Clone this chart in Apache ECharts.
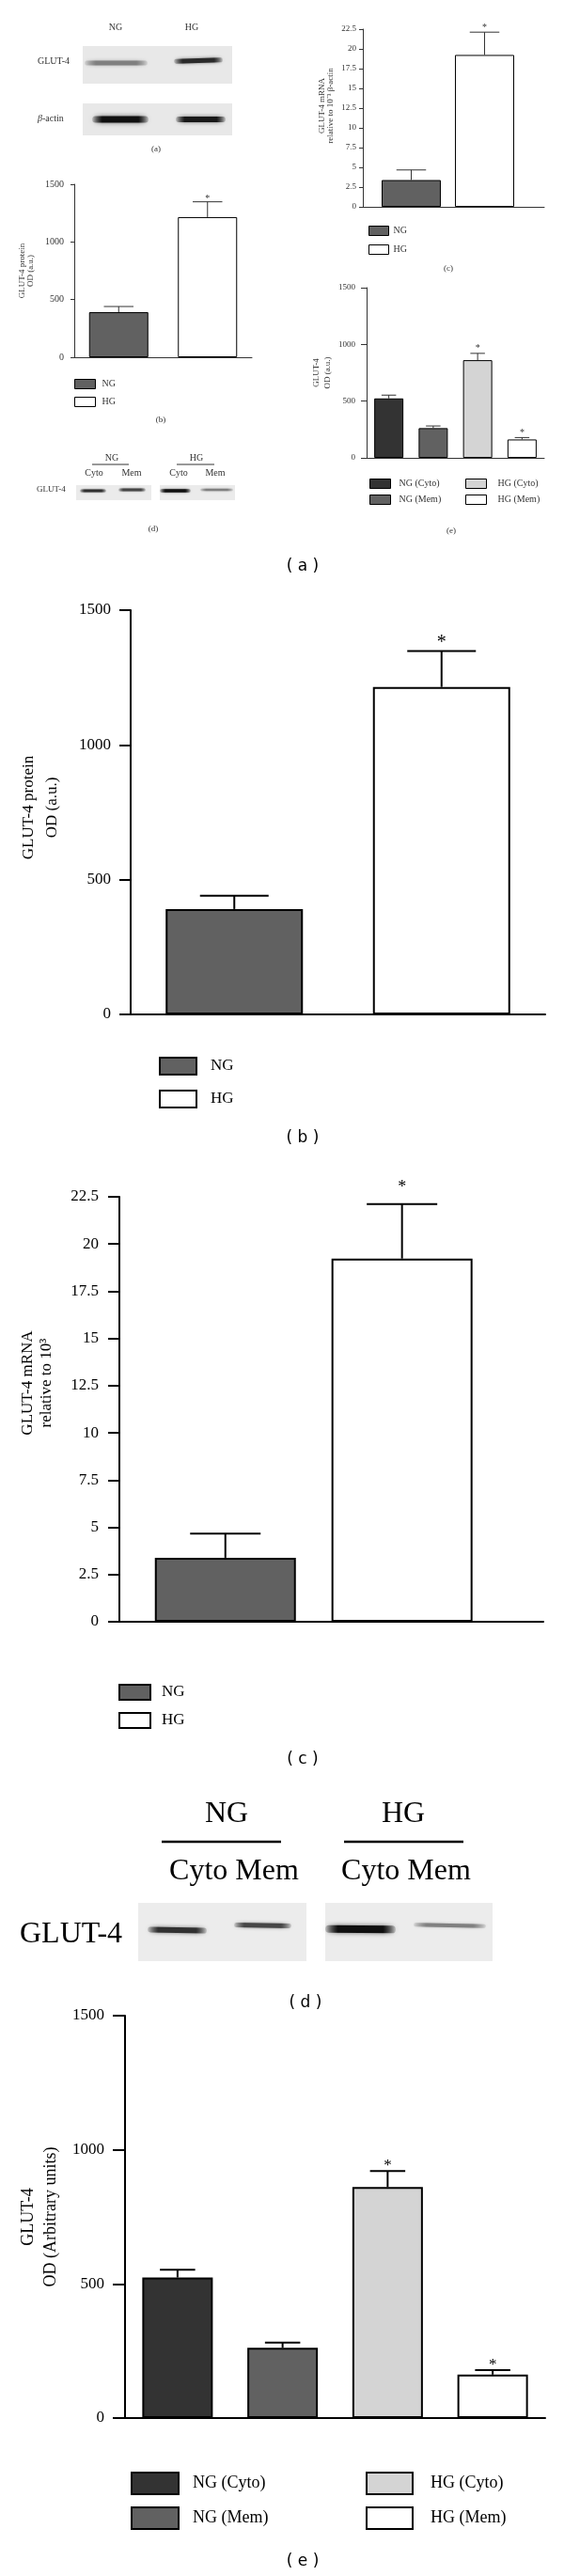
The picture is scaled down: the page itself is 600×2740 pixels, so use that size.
<!DOCTYPE html>
<html><head><meta charset="utf-8">
<script src="https://cdn.jsdelivr.net/npm/echarts@6/dist/echarts.min.js"></script>
<style>html,body{margin:0;padding:0;background:#fff}#c{width:600px;height:2740px}</style>
</head><body><div id="c"></div>
<script>
// ---------------- data ----------------
const groupsBC = ['NG', 'HG'];
const proteinMean = [391, 1215];
const proteinSem = [49, 133];
const proteinStars = ['', '*'];
const mrnaMean = [3.39, 19.23];
const mrnaSem = [1.28, 2.89];
const mrnaStars = ['', '*'];
const fractionGroups = ['NG (Cyto)', 'NG (Mem)', 'HG (Cyto)', 'HG (Mem)'];
const fractionMean = [524, 262, 861, 162];
const fractionSem = [29, 19, 60, 17];
const fractionStars = ['', '', '*', '*'];
const odTicks = ['0', '500', '1000', '1500'];
const mrnaTicks = ['0', '2.5', '5', '7.5', '10', '12.5', '15', '17.5', '20', '22.5'];
const blotAGroups = ['NG', 'HG'];
const blotAGlut = [0.45, 0.85];
const blotAActin = [0.97, 0.93];
const blotDGroups = ['NG', 'HG'];
const blotDFractions = ['Cyto', 'Mem'];
const blotDGlut = [0.82, 0.72, 0.97, 0.45];

// ---------------- styles / layout ----------------
const SERIF = '"Liberation Serif","Times New Roman",serif';
const SANS = '"DejaVu Sans",sans-serif';
const FILL = {'NG':'#616161','HG':'#ffffff','NG (Cyto)':'#333333','NG (Mem)':'#616161','HG (Cyto)':'#d4d4d4','HG (Mem)':'#ffffff'};

const panels = [
 {cats:groupsBC, mean:proteinMean, sem:proteinSem, stars:proteinStars, ticks:odTicks,
  grid:{left:79,top:196,width:189,height:184}, xMin:0.5, xMax:2.5, barW:63, lw:1, col:'#333',
  fs:10, tickLen:4, margin:11, name:'GLUT-4 protein\nOD (a.u.)', nameFs:9, nameLH:9, nameGap:42, namePad:0,
  starFs:10, starGap:-2,
  legends:[{left:79,top:403,items:groupsBC,w:22,h:10,gap:8,fs:10,pad:2}]},
 {cats:groupsBC, mean:mrnaMean, sem:mrnaSem, stars:mrnaStars, ticks:mrnaTicks,
  grid:{left:386,top:31,width:193,height:189}, xMin:0.34, xMax:2.814, barW:63, lw:1, col:'#333',
  fs:9, tickLen:4, margin:7, name:'GLUT-4 mRNA\nrelative to 10\u207B\u00B3 \u03B2-actin', nameFs:9, nameLH:9, nameGap:30, namePad:26,
  starFs:10, starGap:0,
  legends:[{left:392,top:240,items:groupsBC,w:21,h:10,gap:9,fs:10,pad:0}]},
 {cats:fractionGroups, mean:fractionMean, sem:fractionSem, stars:fractionStars, ticks:odTicks,
  grid:{left:390,top:306,width:189,height:181}, xMin:0.5, xMax:4.5, barW:31, lw:1, col:'#333',
  fs:9, tickLen:6, margin:12, name:'GLUT-4\nOD (a.u.)', nameFs:9, nameLH:12, nameGap:35, namePad:0,
  starFs:10, starGap:0,
  legends:[{left:393,top:509,items:fractionGroups.slice(0,2),w:22,h:10,gap:6,fs:10,pad:4},
           {left:495,top:509,items:fractionGroups.slice(2),w:22,h:10,gap:6,fs:10,pad:7}]},
 {cats:groupsBC, mean:proteinMean, sem:proteinSem, stars:proteinStars, ticks:odTicks,
  grid:{left:139,top:649,width:441,height:430}, xMin:0.5, xMax:2.5, barW:146, lw:2, col:'#000',
  fs:17, tickLen:12, margin:21, name:'GLUT-4 protein\nOD (a.u.)', nameFs:17, nameLH:25, nameGap:71, namePad:10,
  starFs:20, starGap:-1,
  legends:[{left:169,top:1124,items:groupsBC,w:39,h:18,gap:15,fs:17,pad:10}]},
 {cats:groupsBC, mean:mrnaMean, sem:mrnaSem, stars:mrnaStars, ticks:mrnaTicks,
  grid:{left:127,top:1273,width:451,height:452}, xMin:0.4, xMax:2.8, barW:150, lw:2, col:'#000',
  fs:17, tickLen:12, margin:22, name:'GLUT-4 mRNA\nrelative to 10\u00B3', nameFs:17, nameLH:20, nameGap:67, namePad:56,
  starFs:18, starGap:8,
  legends:[{left:126,top:1791,items:groupsBC,w:33,h:16,gap:12,fs:17,pad:7}]},
 {cats:fractionGroups, mean:fractionMean, sem:fractionSem, stars:fractionStars, ticks:odTicks,
  grid:{left:133,top:2144,width:447,height:428}, xMin:0.5, xMax:4.5, barW:75, lw:2, col:'#000',
  fs:17, tickLen:13, margin:22, name:'GLUT-4\nOD (Arbitrary units)', nameFs:18, nameLH:24, nameGap:67, namePad:0,
  starFs:17, starGap:-3,
  legends:[{left:139,top:2629,items:fractionGroups.slice(0,2),w:50,h:23,gap:12,fs:18,pad:10},
           {left:389,top:2629,items:fractionGroups.slice(2),w:49,h:23,gap:12,fs:18,pad:14}]}
];

const grids = [], xAxes = [], yAxes = [], series = [], legends = [];
panels.forEach((p, gi) => {
  grids.push(Object.assign({outerBoundsMode:'none', containLabel:false}, p.grid));
  xAxes.push({type:'value', gridIndex:gi, min:p.xMin, max:p.xMax, axisLabel:{show:false}, axisTick:{show:false},
    splitLine:{show:false}, axisLine:{show:true, onZero:false, lineStyle:{color:p.col, width:p.lw}}});
  const ticks = p.ticks;
  yAxes.push({type:'value', gridIndex:gi, min:Number(ticks[0]), max:Number(ticks[ticks.length-1]), interval:Number(ticks[1])-Number(ticks[0]),
    splitLine:{show:false}, axisLine:{show:true, lineStyle:{color:p.col, width:p.lw}},
    axisTick:{show:true, length:p.tickLen, lineStyle:{color:p.col, width:p.lw}},
    axisLabel:{margin:p.margin, color:p.col, fontFamily:SERIF, fontSize:p.fs,
      formatter:v => { const t = ticks.find(s => Math.abs(Number(s) - v) < 1e-9); return t === undefined ? '' : t; }},
    name:p.name, nameLocation:'middle', nameRotate:90, nameGap:p.nameGap,
    nameTextStyle:{color:p.col, fontFamily:SERIF, fontSize:p.nameFs, lineHeight:p.nameLH, padding:[0,0,0,p.namePad]}});
  p.cats.forEach((c, i) => {
    series.push({type:'bar', name:c, xAxisIndex:gi, yAxisIndex:gi, data:[[i + 1, p.mean[i]]],
      barWidth:p.barW, barGap:'-100%', silent:true, z:2,
      itemStyle:{color:FILL[c], borderColor:'#000', borderWidth:p.lw}});
  });
  series.push({type:'custom', xAxisIndex:gi, yAxisIndex:gi, silent:true, z:5,
    data:p.cats.map((c, i) => [i + 1, p.mean[i], p.mean[i] + p.sem[i], i]),
    encode:{x:0, y:[1,2]},
    renderItem:(params, api) => {
      const i = api.value(3);
      const b = api.coord([api.value(0), api.value(1)]);
      const t = api.coord([api.value(0), api.value(2)]);
      const half = p.barW / 4;
      const ch = [
        {type:'line', shape:{x1:b[0], y1:b[1], x2:t[0], y2:t[1]}, style:{stroke:p.col, lineWidth:p.lw}},
        {type:'line', shape:{x1:t[0] - half, y1:t[1], x2:t[0] + half, y2:t[1]}, style:{stroke:p.col, lineWidth:p.lw}}
      ];
      if (p.stars[i]) ch.push({type:'text', x:t[0], y:t[1] - p.starGap,
        style:{text:p.stars[i], fill:p.col, fontFamily:SERIF, fontSize:p.starFs, align:'center', verticalAlign:'bottom'}});
      return {type:'group', children:ch};
    }});
  p.legends.forEach(l => legends.push({left:l.left, top:l.top, orient:'vertical', padding:0, itemGap:l.gap,
    itemWidth:l.w, itemHeight:l.h, icon:'rect', selectedMode:false, data:l.items,
    itemStyle:{borderColor:'#000', borderWidth:p.lw},
    textStyle:{fontFamily:SERIF, fontSize:l.fs, lineHeight:l.h, color:p.col, padding:[0,0,0,l.pad]}}));
});

// ---------------- graphics (blots, captions) ----------------
const G = [];
function txt(x, y, s, size, opt) {
  opt = opt || {};
  G.push({type:'text', x:x, y:y, silent:true, style:Object.assign({text:s, fontFamily:opt.family || SERIF, fontSize:size,
    fill:opt.fill || '#000', align:opt.align || 'center', verticalAlign:'middle'}, opt.extra || {})});
}
function box(x, y, w, h, c) { G.push({type:'rect', silent:true, shape:{x:x, y:y, width:w, height:h}, style:{fill:c}}); }
function hline(x1, x2, y, w, c) { G.push({type:'line', silent:true, shape:{x1:x1, y1:y, x2:x2, y2:y}, style:{stroke:c, lineWidth:w}}); }
function band(cx, cy, w, h, k, rot) {
  const v = Math.round(225 - 215 * k);
  const c = 'rgb(' + v + ',' + v + ',' + v + ')';
  const ce = 'rgba(' + v + ',' + v + ',' + v + ',0.15)';
  G.push({type:'rect', silent:true, x:cx, y:cy, rotation:rot || 0,
    shape:{x:-w / 2, y:-h / 2, width:w, height:h, r:h / 2},
    style:{fill:{type:'linear', x:0, y:0, x2:1, y2:0, colorStops:[{offset:0, color:ce}, {offset:0.18, color:c}, {offset:0.82, color:c}, {offset:1, color:ce}]},
      shadowBlur:Math.max(2, h * 0.7), shadowColor:'rgba(' + v + ',' + v + ',' + v + ',0.6)'}});
}
const MINI = '#333';
// panel (a) western blot
txt(123, 29, blotAGroups[0], 10, {fill:MINI});
txt(204, 29, blotAGroups[1], 10, {fill:MINI});
txt(40, 65, 'GLUT-4', 10, {fill:MINI, align:'left'});
txt(40, 126, '{i|\u03B2}-actin', 10, {fill:MINI, align:'left', extra:{rich:{i:{fontStyle:'italic', fontSize:10, fontFamily:SERIF, fill:MINI}}}});
box(88, 49, 159, 40, '#e8e8e8');
box(88, 110, 159, 34, '#e8e8e8');
band(123.5, 67, 67, 5, blotAGlut[0], 0);
band(211, 64.5, 52, 5, blotAGlut[1], 0.03);
band(128, 127, 60, 7, blotAActin[0], 0);
band(213.5, 127, 53, 6, blotAActin[1], 0);
txt(166, 159, '(a)', 9, {fill:MINI});
txt(171, 447, '(b)', 9, {fill:MINI});
txt(477, 286, '(c)', 9, {fill:MINI});
txt(480, 565, '(e)', 9, {fill:MINI});
// mini (d)
txt(119, 487, blotDGroups[0], 10, {fill:MINI});
txt(209, 487, blotDGroups[1], 10, {fill:MINI});
hline(98, 137, 494, 1, MINI);
hline(188, 228, 494, 1, MINI);
txt(100, 503, blotDFractions[0], 10, {fill:MINI});
txt(140, 503, blotDFractions[1], 10, {fill:MINI});
txt(190, 503, blotDFractions[0], 10, {fill:MINI});
txt(229, 503, blotDFractions[1], 10, {fill:MINI});
txt(39, 521, 'GLUT-4', 9, {fill:MINI, align:'left'});
box(81, 516, 80, 16, '#ebebeb');
box(170, 516, 80, 16, '#ebebeb');
band(99, 522, 28, 3, blotDGlut[0], 0);
band(140.5, 521, 29, 3, blotDGlut[1], 0);
band(186.5, 522, 33, 3.5, blotDGlut[2], 0);
band(230.5, 521, 35, 2.5, blotDGlut[3], 0);
txt(163, 563, '(d)', 9, {fill:MINI});
txt(322, 603, '( a )', 17, {family:SANS});
// main captions
txt(322, 1211, '( b )', 17, {family:SANS});
txt(322, 1872, '( c )', 17, {family:SANS});
txt(325, 2131, '( d )', 17, {family:SANS});
txt(322, 2725, '( e )', 17, {family:SANS});
// main (d) blot
txt(241, 1930, blotDGroups[0], 32);
txt(429, 1930, blotDGroups[1], 32);
hline(172, 299, 1959, 2.5, '#000');
hline(366, 493, 1959, 2.5, '#000');
txt(249, 1991, blotDFractions.join(' '), 32);
txt(432, 1991, blotDFractions.join(' '), 32);
txt(21, 2058, 'GLUT-4', 32, {align:'left'});
box(147, 2024, 179, 62, '#ececec');
box(346, 2024, 178, 62, '#ececec');
band(188.5, 2053, 63, 6, blotDGlut[0], -0.02);
band(279.5, 2048, 61, 5, blotDGlut[1], -0.02);
band(383.5, 2052, 75, 8, blotDGlut[2], -0.01);
band(478.5, 2048, 77, 4, blotDGlut[3], -0.02);

const chart = echarts.init(document.getElementById('c'), null, {renderer:'canvas'});
chart.setOption({
  animation:false, backgroundColor:'#ffffff',
  grid:grids, xAxis:xAxes, yAxis:yAxes, series:series, legend:legends,
  graphic:{elements:G}
});
</script></body></html>
